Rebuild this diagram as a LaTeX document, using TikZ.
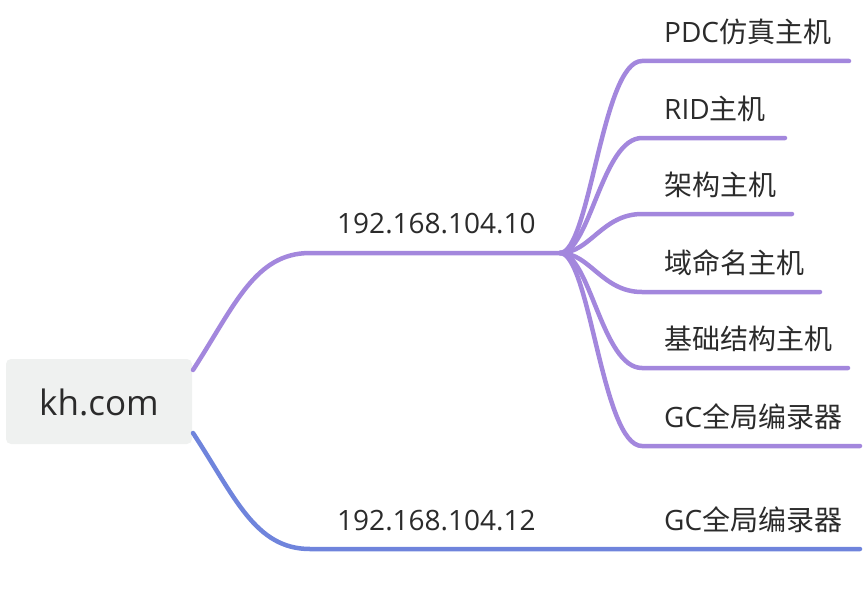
\documentclass[tikz,border=0pt]{standalone}
\usepackage{fontspec}
\setmainfont{Open Sans}
\newfontfamily\cjk{Noto Sans CJK SC}
\definecolor{purp}{HTML}{A387DD}
\definecolor{blu}{HTML}{6F84DC}
\definecolor{rootfill}{HTML}{EFF1F0}
\definecolor{txt}{HTML}{2B2B2B}
\begin{document}
\begin{tikzpicture}[x=1pt,y=-1pt,
  lbl/.style={anchor=base west,inner sep=0pt,text=txt,font=\fontsize{28}{32}\selectfont},
  pline/.style={draw=purp,line width=4.5pt,line cap=round},
  bline/.style={draw=blu,line width=4.5pt,line cap=round}]
\useasboundingbox (0,0) rectangle (864,594);
% root
\node[fill=rootfill,rounded corners=5pt,minimum width=186pt,minimum height=85pt,inner sep=0pt] (root) at (99,401.5) {};
\node[anchor=base,inner sep=0pt,text=txt,font=\fontsize{35}{40}\selectfont] (roottxt) at (99,415) {kh.com};
% coordinates
\coordinate (r1) at (193,370);
\coordinate (r2) at (193,433);
\coordinate (b1s) at (310,253);
\coordinate (j) at (560,253);
\coordinate (b2s) at (310,549);
\coordinate (b2e) at (860,549);
% branch 1
\draw[pline] (r1) .. controls (235,305) and (255,253) .. (b1s) -- (j);
\node[lbl] (ip1) at (337,233) {192.168.104.10};
% branch 2
\draw[bline] (r2) .. controls (235,497) and (255,549) .. (b2s) -- (b2e);
\node[lbl] (ip2) at (337,530) {192.168.104.12};
% children
\foreach \y/\e/\n [count=\i] in {61/849/c1,138/785/c2,214/792/c3,292/820/c4,368/848/c5,446/860/c6}{
  \coordinate (\n s) at (642,\y);
  \coordinate (\n e) at (\e,\y);
  \draw[pline] (j) .. controls (590,253) and (602,\y) .. (\n s) -- (\n e);
}
\node[lbl] (t1) at (664,42) {PDC{\cjk 仿真主机}};
\node[lbl] (t2) at (664,119) {RID{\cjk 主机}};
\node[lbl] (t3) at (664,195) {{\cjk 架构主机}};
\node[lbl] (t4) at (664,273) {{\cjk 域命名主机}};
\node[lbl] (t5) at (664,349) {{\cjk 基础结构主机}};
\node[lbl] (t6) at (664,427) {GC{\cjk 全局编录器}};
\node[lbl] (t7) at (664,530) {GC{\cjk 全局编录器}};
\end{tikzpicture}
\end{document}
